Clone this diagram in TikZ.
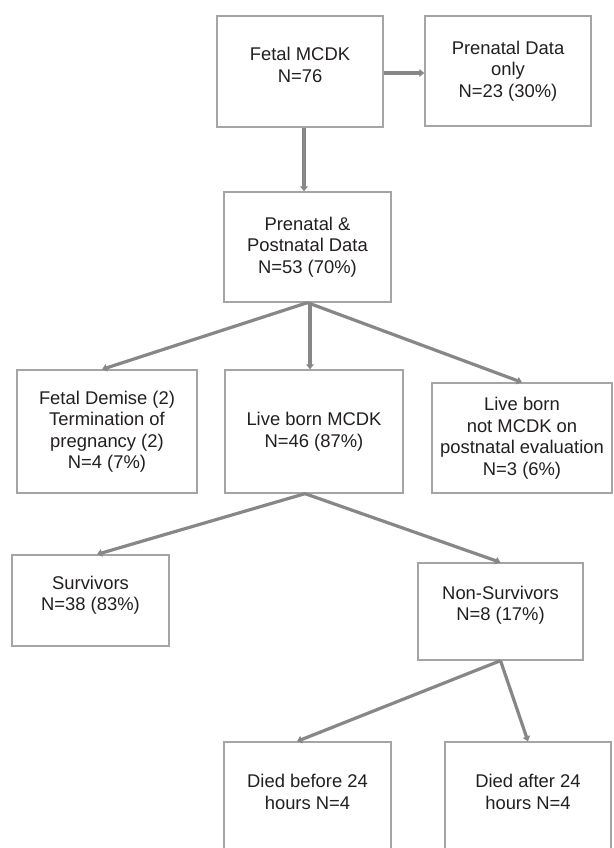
\documentclass[tikz,border=0pt]{standalone}
\usepackage{fontspec}
\setmainfont{Liberation Sans}
\usetikzlibrary{arrows.meta,calc}
\definecolor{boxc}{RGB}{165,165,165}
\definecolor{arrc}{RGB}{135,135,135}
\definecolor{txtc}{RGB}{35,31,32}
\begin{document}
\begin{tikzpicture}[x=1pt,y=-1pt,
  box/.style={draw=boxc, line width=1.3pt, rectangle, inner sep=0pt},
  lbl/.style={align=center, font=\fontsize{18.4}{21.5}\selectfont, text=txtc, inner sep=0pt},
  conn/.style={draw=arrc, line width=3.2pt, -{Triangle[length=5pt,width=7.5pt]}}]
\useasboundingbox (0,0) rectangle (613,848);
\clip (0,0) rectangle (613,848);
\fill[white] (0,0) rectangle (613,848);

\node[box, minimum width=166pt, minimum height=111pt,
  label={[lbl,yshift=6.5pt]center:{Fetal MCDK\\N=76}}] (fetal) at (300,71.5) {};
\node[box, minimum width=166pt, minimum height=110pt,
  label={[lbl]center:{Prenatal Data\\only\\N=23 (30\%)}}] (pre) at (508,71) {};
\node[box, minimum width=167pt, minimum height=110pt,
  label={[lbl]center:{Prenatal \&\\Postnatal Data\\N=53 (70\%)}}] (pp) at (307.5,247) {};
\node[box, minimum width=180pt, minimum height=123pt,
  label={[lbl]center:{Fetal Demise (2)\\Termination of\\pregnancy (2)\\N=4 (7\%)}}] (fd) at (107,431.5) {};
\node[box, minimum width=178pt, minimum height=123pt,
  label={[lbl]center:{Live born MCDK\\N=46 (87\%)}}] (lb) at (314,431.5) {};
\node[box, minimum width=180pt, minimum height=110pt,
  label={[lbl]center:{Live born\\not MCDK on\\postnatal evaluation\\N=3 (6\%)}}] (nm) at (522,438) {};
\node[box, minimum width=157pt, minimum height=91pt,
  label={[lbl,yshift=5.5pt]center:{Survivors\\N=38 (83\%)}}] (sv) at (90.5,600.5) {};
\node[box, minimum width=165pt, minimum height=97pt,
  label={[lbl,yshift=6.5pt]center:{Non-Survivors\\N=8 (17\%)}}] (ns) at (500.5,611.5) {};
\node[box, minimum width=167pt, minimum height=128pt,
  label={[lbl,yshift=14pt]center:{Died before 24\\hours N=4}}] (db) at (307.5,806) {};
\node[box, minimum width=166pt, minimum height=128pt,
  label={[lbl,yshift=14pt]center:{Died after 24\\hours N=4}}] (da) at (528,806) {};

\draw[conn] ([xshift=4pt]fetal.south) -- ([xshift=4pt]fetal.south |- pp.north);
\draw[conn] ([yshift=-1.5pt]fetal.east) -- ([yshift=-1.5pt]fetal.east -| pre.west);
\draw[conn] (pp.south) -- ([xshift=-5pt]fd.north);
\draw[conn] ([xshift=2.5pt]pp.south) -- ([xshift=2.5pt]pp.south |- lb.north);
\draw[conn] (pp.south) -- (nm.north);
\draw[conn] ([xshift=-9pt]lb.south) -- ([xshift=6.5pt]sv.north);
\draw[conn] ([xshift=-9pt]lb.south) -- (ns.north);
\draw[conn] (ns.south) -- ([xshift=-10.5pt]db.north);
\draw[conn] (ns.south) -- (da.north);
\end{tikzpicture}
\end{document}
